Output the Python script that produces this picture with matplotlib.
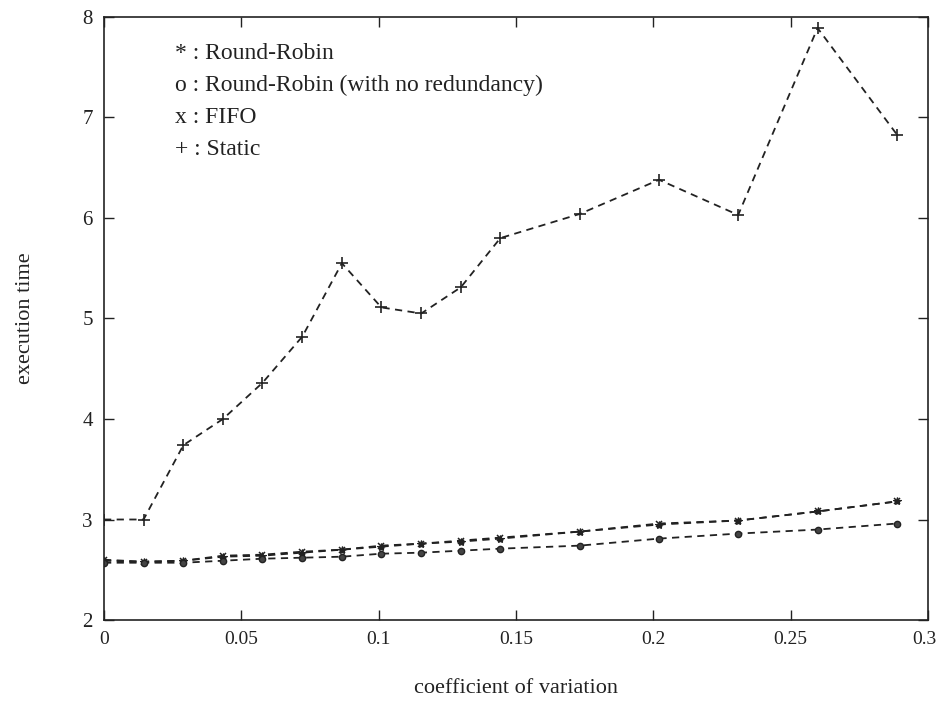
import matplotlib
matplotlib.use("Agg")
import matplotlib.pyplot as plt
from matplotlib.transforms import ScaledTranslation

cv = [0.0, 0.0144, 0.0289, 0.0433, 0.0577, 0.0722, 0.0866, 0.1010,
      0.1155, 0.1299, 0.1443, 0.1732, 0.2021, 0.2309, 0.2598, 0.2887]
static = [3.00, 3.00, 3.74, 4.00, 4.36, 4.82, 5.55, 5.11,
          5.05, 5.31, 5.80, 6.04, 6.38, 6.03, 7.89, 6.83]
fifo = [2.60, 2.58, 2.59, 2.64, 2.65, 2.68, 2.70, 2.74,
        2.76, 2.79, 2.82, 2.88, 2.96, 2.99, 3.08, 3.18]
round_robin = [2.59, 2.58, 2.59, 2.63, 2.64, 2.67, 2.70, 2.73,
               2.76, 2.78, 2.81, 2.88, 2.95, 2.99, 3.08, 3.18]
rr_no_red = [2.57, 2.57, 2.57, 2.59, 2.61, 2.62, 2.63, 2.66,
             2.67, 2.69, 2.71, 2.74, 2.81, 2.86, 2.90, 2.96]

legend_lines = ["* : Round-Robin",
                "o : Round-Robin (with no redundancy)",
                "x : FIFO",
                "+ : Static"]
xticks = [0, 0.05, 0.1, 0.15, 0.2, 0.25, 0.3]
xticklabels = ["0", "0.05", "0.1", "0.15", "0.2", "0.25", "0.3"]
yticks = [2, 3, 4, 5, 6, 7, 8]

plt.rcParams['font.family'] = ['Liberation Serif', 'DejaVu Serif']

fig = plt.figure(figsize=(9.38, 7.04), dpi=100)
ax = fig.add_axes([0.1109, 0.1193, 0.8784, 0.8566])

ls = dict(color='#222222', linestyle=(0, (4, 3)), linewidth=1.3)
ax.plot(cv, static, marker='+', markersize=8, markeredgewidth=1.2, **ls)
ax.plot(cv, round_robin, marker='*', markersize=6, markeredgewidth=0.8, **ls)
ax.plot(cv, fifo, marker='x', markersize=5, markeredgewidth=1.1, **ls)
ax.plot(cv, rr_no_red, marker='o', markersize=4.5, markerfacecolor='#444444',
        markeredgewidth=1.0, **ls)

ax.set_xlim(0, 0.3)
ax.set_ylim(2, 8)
ax.set_xticks(xticks)
ax.set_xticklabels(xticklabels)
ax.set_yticks(yticks)
ax.tick_params(direction='in', top=True, right=True, length=7, width=1,
               labelsize=15, pad=8, colors='#222222')
ax.tick_params(axis='x', labelsize=14)
last = ax.get_xticklabels()[-1]
last.set_transform(last.get_transform() + ScaledTranslation(-4 / 100, 0, fig.dpi_scale_trans))
for s in ax.spines.values():
    s.set_linewidth(1.2)
    s.set_color('#222222')

ax.set_xlabel("coefficient of variation", fontsize=16, labelpad=22, color='#222222')
ax.set_ylabel("execution time", fontsize=16, labelpad=34, color='#222222')

for i, t in enumerate(legend_lines):
    ax.text(0.086, 0.940 - i * 0.053, t, transform=ax.transAxes,
            fontsize=17, va='center', ha='left', color='#222222')

fig.savefig("out.png", dpi=100)
